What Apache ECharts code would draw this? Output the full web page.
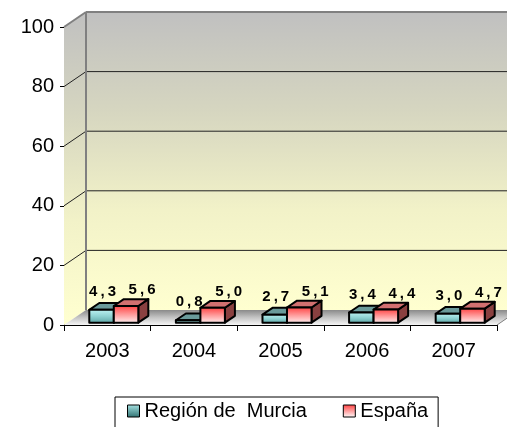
<!DOCTYPE html>
<html>
<head>
<meta charset="utf-8">
<script src="https://cdn.jsdelivr.net/npm/echarts@6/dist/echarts.min.js"></script>
<style>
  html, body { margin: 0; padding: 0; background: #fff; }
  #chart { width: 507px; height: 427px; }
</style>
</head>
<body>
<div id="chart"></div>
<script>
// Data: yearly rates, Región de Murcia vs España
const years = ['2003', '2004', '2005', '2006', '2007'];
const murcia = [4.3, 0.8, 2.7, 3.4, 3.0];
const espana = [5.6, 5.0, 5.1, 4.4, 4.7];
const yTicks = [0, 20, 40, 60, 80, 100];

const FONT = '"Liberation Sans", Arial, sans-serif';
// Pseudo-3D depth offset of the plot box (px)
const DX = 22, DY = -15;
// Bars sit between these depth fractions
const F0 = 0.155, F1 = 0.61;

function vgrad(stops) {
  return new echarts.graphic.LinearGradient(0, 0, 0, 1,
    stops.map((c, i) => ({ offset: i / (stops.length - 1), color: c })));
}

const wallFill = () => vgrad(['#c0c0c0', '#d6d6c0', '#f2f2c8', '#ffffd0']);

function renderWalls(params, api) {
  const cs = params.coordSys;
  const L = cs.x, R = cs.x + cs.width;
  const y0 = api.coord([0, yTicks[0]])[1];
  const yTop = api.coord([0, yTicks[yTicks.length - 1]])[1];
  const kids = [];
  // back wall
  kids.push({ type: 'polygon', shape: { points: [[L + DX, yTop + DY], [R + DX, yTop + DY], [R + DX, y0 + DY], [L + DX, y0 + DY]] },
    style: { fill: wallFill() } });
  // side wall
  kids.push({ type: 'polygon', shape: { points: [[L, yTop], [L + DX, yTop + DY], [L + DX, y0 + DY], [L, y0]] },
    style: { fill: wallFill() } });
  // floor
  kids.push({ type: 'polygon', shape: { points: [[L, y0], [L + DX, y0 + DY], [R + DX, y0 + DY], [R, y0]] },
    style: { fill: vgrad(['#8a8a8a', '#c4c4c4', '#f6f6f6']) } });
  // gridlines on back and side walls
  yTicks.forEach((t, k) => {
    if (k === 0) return;
    const y = api.coord([0, t])[1];
    const top = k === yTicks.length - 1;
    const st = { stroke: top ? '#808080' : '#222', lineWidth: top ? 2 : 1 };
    kids.push({ type: 'line', shape: { x1: L + DX, y1: y + DY, x2: R + DX, y2: y + DY }, style: st });
    kids.push({ type: 'line', shape: { x1: L, y1: y, x2: L + DX, y2: y + DY }, style: top ? st : { stroke: '#222', lineWidth: 1 } });
  });
  // back-left vertical edge
  kids.push({ type: 'line', shape: { x1: L + DX, y1: yTop + DY, x2: L + DX, y2: y0 + DY }, style: { stroke: '#808080', lineWidth: 2 } });
  // floor right edge
  kids.push({ type: 'line', shape: { x1: R, y1: y0, x2: R + DX, y2: y0 + DY }, style: { stroke: '#808080', lineWidth: 1 } });
  return { type: 'group', children: kids };
}

function makeBarRenderer(side, look) {
  return function (params, api) {
    const i = api.value(0), v = api.value(1);
    const band = api.size([1, 0])[0];
    const c0 = api.coord([i, 0]);
    const cv = api.coord([i, v]);
    const w = band * 0.283;
    const split = c0[0] + band * 0.075;
    const x0 = side === 0 ? split - w : split;
    const x1 = x0 + w;
    const fy = DY * F0;
    const bot = c0[1] + fy, top = cv[1] + fy;
    const dx = DX * (F1 - F0), dy = DY * (F1 - F0);
    const edge = { stroke: '#000', lineWidth: 2, lineJoin: 'round' };
    const kids = [
      { type: 'polygon', shape: { points: [[x1, top], [x1 + dx, top + dy], [x1 + dx, bot + dy], [x1, bot]] },
        style: Object.assign({ fill: look.side }, edge) },
      { type: 'polygon', shape: { points: [[x0, top], [x1, top], [x1 + dx, top + dy], [x0 + dx, top + dy]] },
        style: Object.assign({ fill: look.top }, edge) },
      { type: 'rect', shape: { x: x0, y: top, width: w, height: bot - top },
        style: Object.assign({ fill: look.front() }, edge) },
      { type: 'text', x: (x0 + x1) / 2 + look.lx, y: top + look.ly,
        style: { text: v.toFixed(1).replace('.', '\u2009,\u2009'), fontFamily: FONT, fontWeight: 'bold', fontSize: 15,
                 fill: '#000', align: 'center', verticalAlign: 'middle' } }
    ];
    return { type: 'group', children: kids };
  };
}

const tealLook = {
  front: () => vgrad(['#c2f6f6', '#8fd2d2', '#5aa2a2']),
  top: '#6a9a9a', side: '#3f7070', lx: 1, ly: -18
};
const redLook = {
  front: () => vgrad(['#ff3c3c', '#ff9a9a', '#fff4f4']),
  top: '#d27070', side: '#8a4040', lx: 16, ly: -16
};

const chart = echarts.init(document.getElementById('chart'), null, { renderer: 'canvas' });
chart.setOption({
  animation: false,
  backgroundColor: '#fff',
  grid: { left: 64, right: 10, top: 27, bottom: 102, containLabel: false },
  xAxis: {
    type: 'category', data: years, boundaryGap: true,
    axisLine: { lineStyle: { color: '#000', width: 1 } },
    axisTick: { show: true, length: 6, lineStyle: { color: '#000' } },
    axisLabel: { color: '#000', fontFamily: FONT, fontSize: 20, margin: 16 },
    splitLine: { show: false }
  },
  yAxis: {
    type: 'value', min: yTicks[0], max: yTicks[yTicks.length - 1], interval: yTicks[1] - yTicks[0],
    axisLine: { show: true, lineStyle: { color: '#333', width: 1 } },
    axisTick: { show: true, length: 4, lineStyle: { color: '#000' } },
    axisLabel: { color: '#000', fontFamily: FONT, fontSize: 20, margin: 10 },
    splitLine: { show: false }
  },
  legend: {
    left: 115, top: 397,
    padding: [4, 10, 10, 12],
    borderColor: '#000', borderWidth: 1,
    itemWidth: 12, itemHeight: 12, itemGap: 36,
    textStyle: { fontFamily: FONT, fontSize: 20, color: '#000' },
    data: [
      { name: 'Región de  Murcia', icon: 'rect',
        itemStyle: { color: vgrad(['#a8e4e4', '#2e7070']), borderColor: '#000', borderWidth: 1 } },
      { name: 'España', icon: 'rect',
        itemStyle: { color: vgrad(['#ff4040', '#ffffff']), borderColor: '#000', borderWidth: 1 } }
    ]
  },
  series: [
    { type: 'custom', name: 'walls', z: 1, silent: true, renderItem: renderWalls, data: [[0, 0]], encode: { x: 0, y: 1 } },
    { type: 'custom', name: 'Región de  Murcia', z: 2, renderItem: makeBarRenderer(0, tealLook),
      data: murcia.map((v, i) => [i, v]), encode: { x: 0, y: 1 } },
    { type: 'custom', name: 'España', z: 3, renderItem: makeBarRenderer(1, redLook),
      data: espana.map((v, i) => [i, v]), encode: { x: 0, y: 1 } }
  ]
});
</script>
</body>
</html>
